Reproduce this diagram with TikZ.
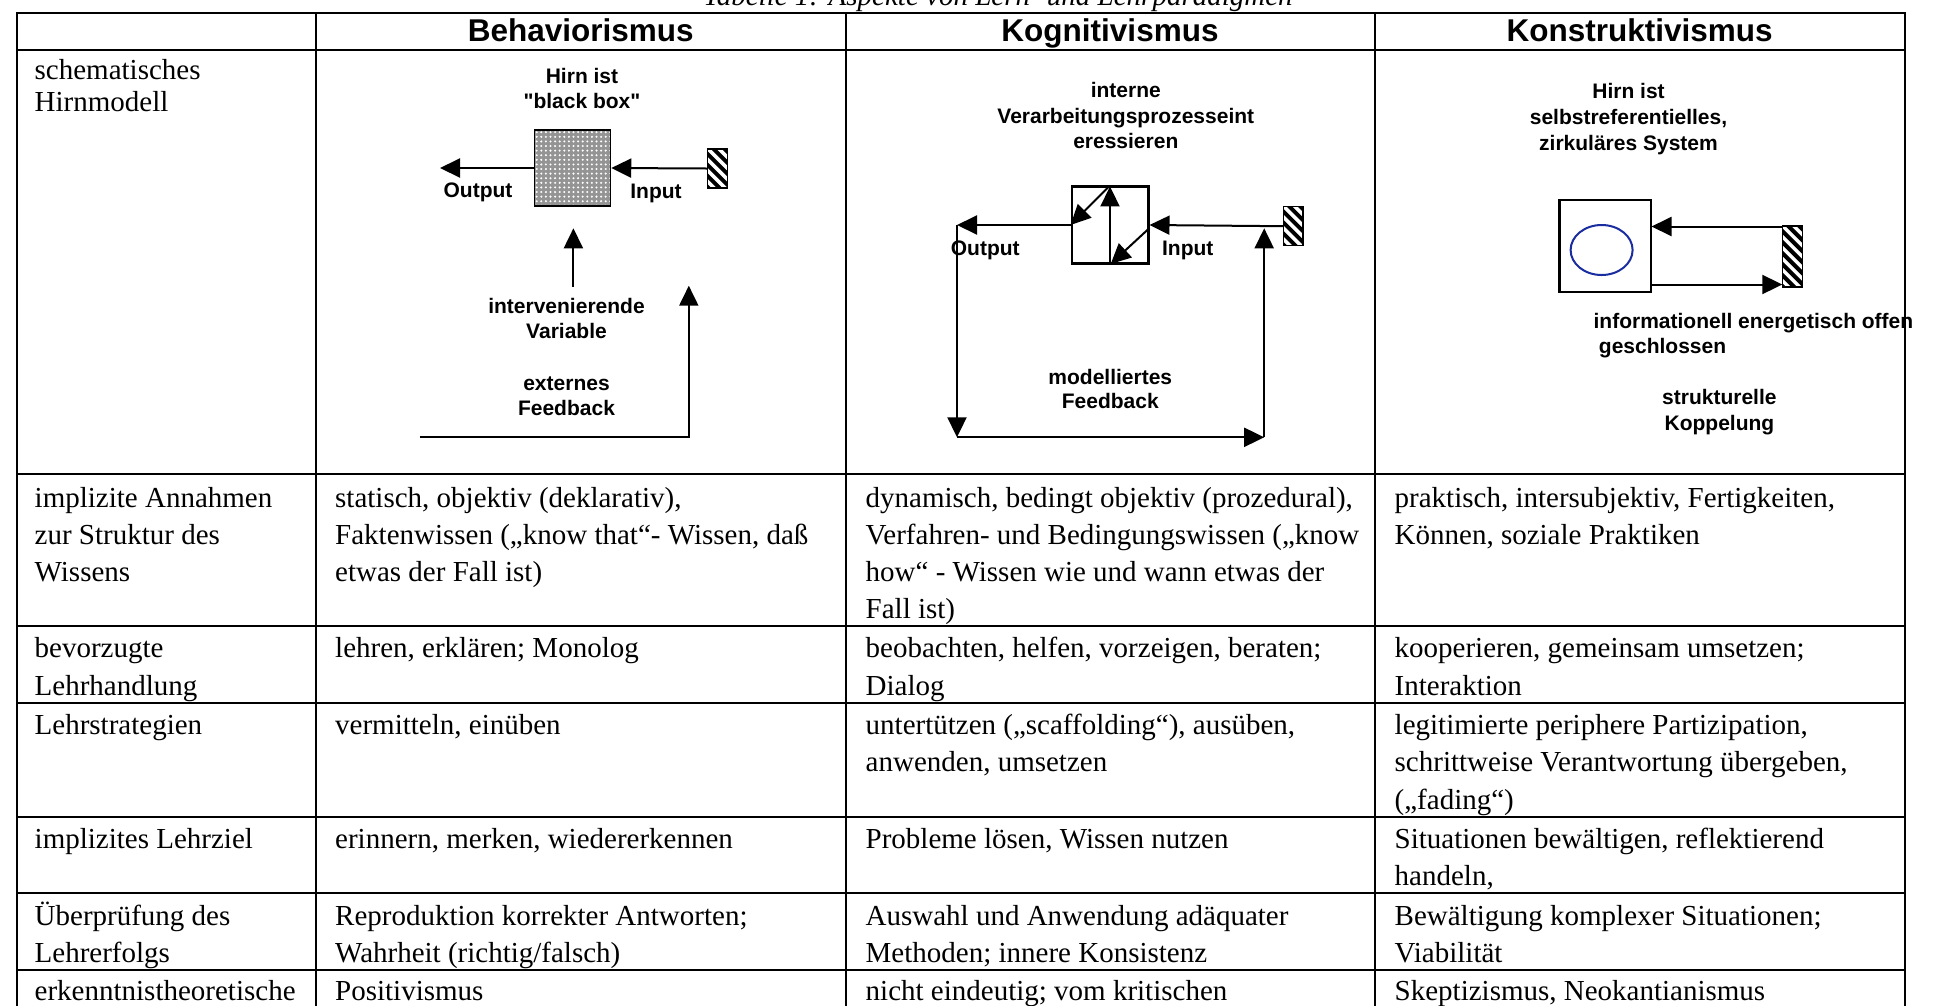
\documentclass[tikz,border=0pt]{standalone}
\usepackage{fontspec}
\setmainfont{Liberation Serif}
\newfontfamily\dsans{Liberation Sans}
\usetikzlibrary{arrows.meta,calc,shapes.geometric}
\definecolor{ringblue}{RGB}{25,45,160}
\begin{document}
\begin{tikzpicture}[x=1pt,y=-1pt,
  tab/.style={anchor=base west, inner sep=0pt, font=\fontsize{29}{37}\selectfont},
  hdr/.style={anchor=base, inner sep=0pt, font=\dsans\bfseries\fontsize{31.5}{36}\selectfont},
  lbl/.style={anchor=base, inner sep=0pt, font=\dsans\bfseries\fontsize{21}{25}\selectfont},
  lblw/.style={lbl, anchor=base west},
  gridline/.style={line width=2pt},
  arr/.style={line width=2pt, -{Triangle[length=20pt,width=19pt]}},
  hatchbox/.style={draw, line width=1.5pt, inner sep=0pt,
    path picture={\foreach \k in {-77,-66,...,77}
      \draw[line width=4pt] ($(path picture bounding box.north west)+(-5,\k)$) -- ++(40,40);}},
  dotbox/.style={draw, line width=1.5pt, inner sep=0pt, fill=black!42,
    path picture={\foreach \i in {0,...,16} \foreach \j in {0,...,16}
      \fill[white] ($(path picture bounding box.north west)+(2.2+\i*4.6,2.2+\j*4.6)$) circle (1.15);}},
  plainbox/.style={draw, line width=2.5pt, inner sep=0pt, fill=white}
]
\useasboundingbox (0,0) rectangle (1933,1005);
\clip (0,0) rectangle (1933,1005);
\fill[white] (0,0) rectangle (1933,1005);

% caption
\node[anchor=base, inner sep=0pt, font=\itshape\fontsize{29}{30}\selectfont] (cap) at (998,5) {Tabelle 1: Aspekte von Lern- und Lehrparadigmen};

% grid
\foreach \x in {17.3,315.6,845.7,1374.6,1904.7} \draw[gridline] (\x,12.5) -- (\x,1010);
\foreach \y in {12.5,49.5,473.5,626.3,702.7,816.5,893,969.6} \draw[gridline] (16.3,\y) -- (1905.7,\y);

% headers
\node[hdr] (h1) at (580.7,41) {Behaviorismus};
\node[hdr] (h2) at (1110,41) {Kognitivismus};
\node[hdr] (h3) at (1639.7,41) {Konstruktivismus};

% ---- Behaviorismus diagram
\node[lbl] (bl1) at (582,83) {Hirn ist};
\node[lbl] (bl2) at (582,108.5) {"black box"};
\node[dotbox, minimum width=76pt, minimum height=76pt] (bb) at (572.5,168) {};
\node[hatchbox, minimum width=19.7pt, minimum height=39pt] (bh) at (717.5,168.5) {};
\coordinate (bout) at (440,168);
\draw[arr] (bb.west) -- (bout);
\draw[arr] (bh.west) -- (bb.east);
\node[lbl] (blo) at (478,197.5) {Output};
\node[lbl] (bli) at (656,198) {Input};
\coordinate (biv1) at (573.4,286.7);
\coordinate (biv2) at (573.4,228.3);
\draw[arr] (biv1) -- (biv2);
\node[lbl] (bl3) at (566.5,313.5) {intervenierende};
\node[lbl] (bl4) at (566.5,338.5) {Variable};
\node[lbl] (bl5) at (566.5,390) {externes};
\node[lbl] (bl6) at (566.5,415) {Feedback};
\coordinate (bf1) at (419.5,437.3);
\coordinate (bf2) at (688.8,437.3);
\coordinate (bf3) at (688.8,285.7);
\draw[arr] (bf1) -- (bf2) -- (bf3);

% ---- Kognitivismus diagram
\node[lbl] (kl1) at (1125.8,97.5) {interne};
\node[lbl] (kl2) at (1125.8,123.5) {Verarbeitungsprozesseint};
\node[lbl] (kl3) at (1125.8,148.5) {eressieren};
\node[plainbox, minimum width=76.5pt, minimum height=76.6pt] (kb) at (1110,225) {};
\draw[arr, shorten >=1pt] (kb.south) -- (kb.north);
\draw[arr, shorten <=1pt] (kb.north) -- (kb.west);
\draw[arr, shorten >=1pt] ([yshift=-3pt]kb.east) -- (kb.south);
\node[hatchbox, minimum width=19.5pt, minimum height=39pt] (kh) at (1293.3,226.2) {};
\coordinate (ko1) at (957,225);
\coordinate (ko2) at (957,437.3);
\coordinate (ko3) at (1264.2,437.3);
\coordinate (ko4) at (1264.2,228.3);
\draw[arr] (kb.west) -- (ko1);
\draw[arr] (ko1) -- (ko2);
\draw[arr] (ko2) -- (ko3);
\draw[arr] (ko3) -- (ko4);
\draw[arr] (kh.west) -- (kb.east);
\node[lbl] (klo) at (985.3,255) {Output};
\node[lbl] (kli) at (1187.8,255) {Input};
\node[lbl] (kl4) at (1110.3,384.5) {modelliertes};
\node[lbl] (kl5) at (1110.3,408.5) {Feedback};

% ---- Konstruktivismus diagram
\node[lbl] (cl1) at (1628.5,98.5) {Hirn ist};
\node[lbl] (cl2) at (1628.5,124) {selbstreferentielles,};
\node[lbl] (cl3) at (1628.5,150) {zirkuläres System};
\node[plainbox, minimum width=91.2pt, minimum height=91.7pt] (cb) at (1605.2,245.9) {};
\node[draw=ringblue, ellipse, line width=2pt, minimum width=62pt, minimum height=50pt, inner sep=0pt] (ring) at (1601.6,250) {};
\node[hatchbox, minimum width=20.4pt, minimum height=60.7pt] (ch) at (1792.5,256.4) {};
\coordinate (ca1) at (1782.3,226.5);
\coordinate (ca2) at (1651.5,226.5);
\coordinate (ca3) at (1651.5,284.5);
\coordinate (ca4) at (1782.3,284.5);
\draw[arr] (ca1) -- (ca2);
\draw[arr] (ca3) -- (ca4);
\node[lblw] (cl4) at (1593.4,328) {informationell};
\node[lblw] (cl5) at (1738,328) {energetisch offen};
\node[lblw] (cl6) at (1598.7,353) {geschlossen};
\node[lbl] (cl7) at (1719.4,404.5) {strukturelle};
\node[lbl] (cl8) at (1719.4,430) {Koppelung};

% ---- table text
\node[tab] (r1a) at (34.5,79) {schematisches};
\node[tab] (r1b) at (34.5,111) {Hirnmodell};

\node[tab] (r2a) at (34.5,507) {implizite Annahmen};
\node[tab] (r2b) at (34.5,544) {zur Struktur des};
\node[tab] (r2c) at (34.5,581) {Wissens};
\node[tab] (r2d) at (335,507) {statisch, objektiv (deklarativ),};
\node[tab] (r2e) at (335,544) {Faktenwissen („know that“- Wissen, daß};
\node[tab] (r2f) at (335,581) {etwas der Fall ist)};
\node[tab] (r2g) at (865.5,507) {dynamisch, bedingt objektiv (prozedural),};
\node[tab] (r2h) at (865.5,544) {Verfahren- und Bedingungswissen („know};
\node[tab] (r2i) at (865.5,581) {how“ - Wissen wie und wann etwas der};
\node[tab] (r2j) at (865.5,618) {Fall ist)};
\node[tab] (r2k) at (1394.5,507) {praktisch, intersubjektiv, Fertigkeiten,};
\node[tab] (r2l) at (1394.5,544) {Können, soziale Praktiken};

\node[tab] (r3a) at (34.5,657) {bevorzugte};
\node[tab] (r3b) at (34.5,695.5) {Lehrhandlung};
\node[tab] (r3c) at (335,657) {lehren, erklären; Monolog};
\node[tab] (r3d) at (865.5,657) {beobachten, helfen, vorzeigen, beraten;};
\node[tab] (r3e) at (865.5,695.5) {Dialog};
\node[tab] (r3f) at (1394.5,657) {kooperieren, gemeinsam umsetzen;};
\node[tab] (r3g) at (1394.5,695.5) {Interaktion};

\node[tab] (r4a) at (34.5,734) {Lehrstrategien};
\node[tab] (r4b) at (335,734) {vermitteln, einüben};
\node[tab] (r4c) at (865.5,734) {untertützen („scaffolding“), ausüben,};
\node[tab] (r4d) at (865.5,771) {anwenden, umsetzen};
\node[tab] (r4e) at (1394.5,734) {legitimierte periphere Partizipation,};
\node[tab] (r4f) at (1394.5,771) {schrittweise Verantwortung übergeben,};
\node[tab] (r4g) at (1394.5,809) {(„fading“)};

\node[tab] (r5a) at (34.5,848) {implizites Lehrziel};
\node[tab] (r5b) at (335,848) {erinnern, merken, wiedererkennen};
\node[tab] (r5c) at (865.5,848) {Probleme lösen, Wissen nutzen};
\node[tab] (r5d) at (1394.5,848) {Situationen bewältigen, reflektierend};
\node[tab] (r5e) at (1394.5,885) {handeln,};

\node[tab] (r6a) at (34.5,925) {Überprüfung des};
\node[tab] (r6b) at (34.5,962) {Lehrerfolgs};
\node[tab] (r6c) at (335,925) {Reproduktion korrekter Antworten;};
\node[tab] (r6d) at (335,962) {Wahrheit (richtig/falsch)};
\node[tab] (r6e) at (865.5,925) {Auswahl und Anwendung adäquater};
\node[tab] (r6f) at (865.5,962) {Methoden; innere Konsistenz};
\node[tab] (r6g) at (1394.5,925) {Bewältigung komplexer Situationen;};
\node[tab] (r6h) at (1394.5,962) {Viabilität};

\node[tab] (r7a) at (34.5,1000) {erkenntnistheoretische};
\node[tab] (r7b) at (335,1000) {Positivismus};
\node[tab] (r7c) at (865.5,1000) {nicht eindeutig; vom kritischen};
\node[tab] (r7d) at (1394.5,1000) {Skeptizismus, Neokantianismus};
\end{tikzpicture}
\end{document}
